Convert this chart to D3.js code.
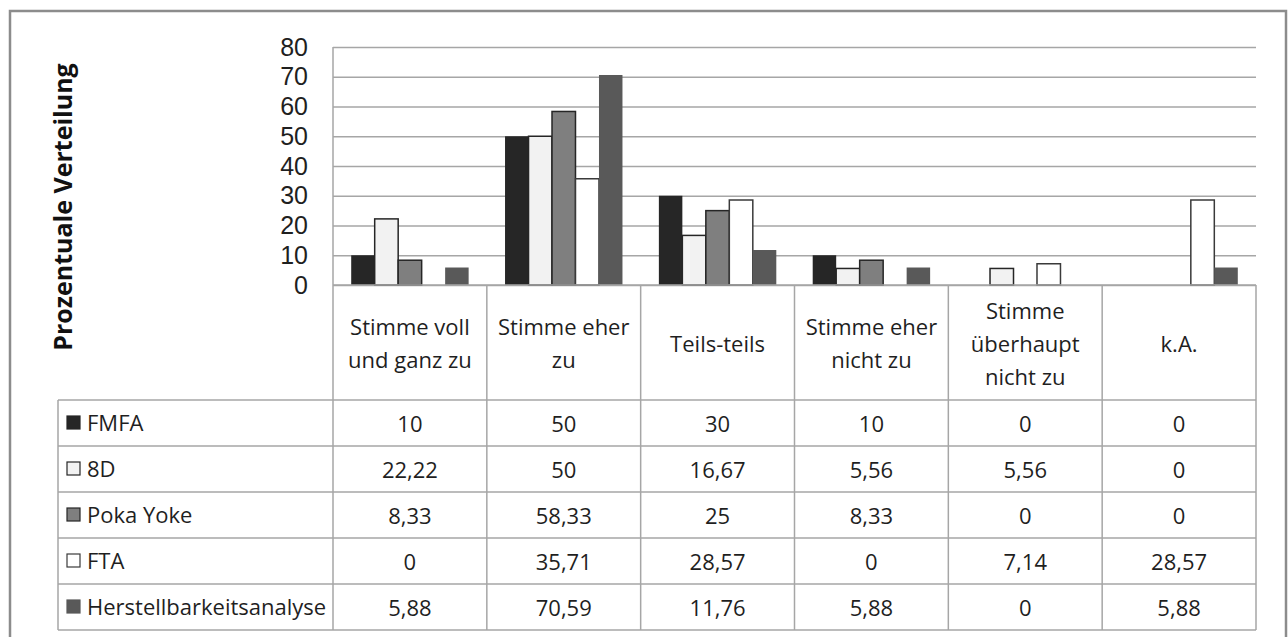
<!DOCTYPE html>
<html>
<head>
<meta charset="utf-8">
<script src="https://cdn.jsdelivr.net/npm/d3@7"></script>
<style>
  body { margin: 0; background: #fff; }
  svg { display: block; font-family: 'Open Sans', sans-serif; }
  .grid line { stroke: #a6a6a6; stroke-width: 1.5; }
  .grid text { font-size: 25px; fill: #1f1f1f; }
  .cell { stroke: #a6a6a6; stroke-width: 1.5; }
  .txt { font-size: 22px; fill: #1f1f1f; }
</style>
</head>
<body>
<svg id="svg_chart" width="1288" height="637"></svg>
<script>

// data
const categories = ['Stimme voll\nund ganz zu', 'Stimme eher\nzu', 'Teils-teils', 'Stimme eher\nnicht zu', 'Stimme\nüberhaupt\nnicht zu', 'k.A.'];
const seriesNames = ['FMFA', '8D', 'Poka Yoke', 'FTA', 'Herstellbarkeitsanalyse'];
const fmfa = [10, 50, 30, 10, 0, 0];
const achtD = [22.22, 50, 16.67, 5.56, 5.56, 0];
const pokaYoke = [8.33, 58.33, 25, 8.33, 0, 0];
const fta = [0, 35.71, 28.57, 0, 7.14, 28.57];
const herstell = [5.88, 70.59, 11.76, 5.88, 0, 5.88];
const yTicks = [0, 10, 20, 30, 40, 50, 60, 70, 80];
const yTitle = 'Prozentuale Verteilung';

const values = [fmfa, achtD, pokaYoke, fta, herstell];
const fills = ['#262626', '#f2f2f2', '#7f7f7f', '#ffffff', '#595959'];
const strokes = ['none', '#262626', '#262626', '#3a3a3a', 'none'];

const svg = d3.select('#svg_chart');

// layout
const plotLeft = 333, plotRight = 1256, plotTop = 47, plotBottom = 285;
const tableLeft = 58, headBottom = 400, rowH = 46;
const tableBottom = headBottom + rowH * seriesNames.length;

// outer frame
svg.append('rect')
  .attr('x', 10).attr('y', 11)
  .attr('width', 1276).attr('height', 640)
  .attr('fill', 'none')
  .attr('stroke', '#8c8c8c')
  .attr('stroke-width', 2.5);

// scales
const x = d3.scaleBand()
  .domain(categories)
  .range([plotLeft, plotRight])
  .padding(0);

const xs = d3.scaleBand()
  .domain(seriesNames)
  .range([0, x.bandwidth()])
  .paddingInner(0)
  .paddingOuter(0.775);

const y = d3.scaleLinear()
  .domain([0, 80])
  .range([plotBottom, plotTop]);

// gridlines + y labels
const yAxis = d3.axisLeft(y)
  .tickValues(yTicks)
  .tickSize(-(plotRight - plotLeft))
  .tickPadding(25)
  .tickFormat(d3.format('d'));

svg.append('g')
  .attr('class', 'grid')
  .attr('transform', `translate(${plotLeft},0)`)
  .call(yAxis)
  .call(g => g.select('.domain').remove());

// y title
svg.append('text')
  .attr('transform', `translate(72,207) rotate(-90)`)
  .attr('text-anchor', 'middle')
  .style('font-size', '25px')
  .style('font-weight', 'bold')
  .style('fill', '#111')
  .text(yTitle);

// bars
const barData = [];
values.forEach((arr, si) => {
  arr.forEach((v, ci) => {
    if (v > 0) barData.push({ s: si, c: categories[ci], v: v });
  });
});

svg.append('g').selectAll('rect')
  .data(barData)
  .join('rect')
  .attr('x', d => x(d.c) + xs(seriesNames[d.s]))
  .attr('y', d => y(d.v))
  .attr('width', xs.bandwidth())
  .attr('height', d => y(0) - y(d.v))
  .attr('fill', d => fills[d.s])
  .attr('stroke', d => strokes[d.s])
  .attr('stroke-width', 1.5);

// table lines
const tbl = svg.append('g');

// left axis line
tbl.append('line').attr('class', 'cell')
  .attr('x1', plotLeft).attr('x2', plotLeft)
  .attr('y1', plotTop).attr('y2', tableBottom);

// horizontal axis / header top
tbl.append('line').attr('class', 'cell')
  .attr('x1', plotLeft).attr('x2', plotRight)
  .attr('y1', plotBottom).attr('y2', plotBottom);

// category dividers
tbl.selectAll('.vdiv')
  .data(categories)
  .join('line')
  .attr('class', 'cell vdiv')
  .attr('x1', d => x(d) + x.bandwidth())
  .attr('x2', d => x(d) + x.bandwidth())
  .attr('y1', plotBottom).attr('y2', tableBottom);

// row lines
tbl.selectAll('.hrow')
  .data(d3.range(seriesNames.length + 1))
  .join('line')
  .attr('class', 'cell hrow')
  .attr('x1', tableLeft).attr('x2', plotRight)
  .attr('y1', i => headBottom + i * rowH)
  .attr('y2', i => headBottom + i * rowH);

tbl.append('line').attr('class', 'cell')
  .attr('x1', tableLeft).attr('x2', tableLeft)
  .attr('y1', headBottom).attr('y2', tableBottom);

// header text
const lineH = 33;
const head = svg.append('g').selectAll('text')
  .data(categories)
  .join('text')
  .attr('class', 'txt')
  .attr('text-anchor', 'middle')
  .attr('x', d => x(d) + x.bandwidth() / 2)
  .attr('y', (plotBottom + headBottom) / 2 + 9);

head.selectAll('tspan')
  .data(d => {
    const parts = d.split('\n');
    return parts.map((p, i) => ({ p: p, off: (i - (parts.length - 1) / 2) * lineH }));
  })
  .join('tspan')
  .attr('x', function () { return d3.select(this.parentNode).attr('x'); })
  .attr('y', (d) => (plotBottom + headBottom) / 2 + 9 + d.off)
  .text(d => d.p);

// legend keys + series names
const rows = svg.append('g').selectAll('g')
  .data(seriesNames)
  .join('g')
  .attr('transform', (d, i) => `translate(0,${headBottom + i * rowH + rowH / 2})`);

rows.append('rect')
  .attr('x', 67).attr('y', -7)
  .attr('width', 13).attr('height', 13)
  .attr('fill', (d, i) => fills[i])
  .attr('stroke', (d, i) => strokes[i] === 'none' ? fills[i] : strokes[i])
  .attr('stroke-width', 1.2);

rows.append('text')
  .attr('class', 'txt')
  .attr('x', 87).attr('y', 8)
  .text(d => d);

// values
const fmt = v => String(v).replace('.', ',');

rows.selectAll('.val')
  .data((d, i) => values[i].map((v, ci) => ({ v: v, c: categories[ci] })))
  .join('text')
  .attr('class', 'txt val')
  .attr('text-anchor', 'middle')
  .attr('x', d => x(d.c) + x.bandwidth() / 2)
  .attr('y', 9)
  .text(d => fmt(d.v));

</script>
</body>
</html>
